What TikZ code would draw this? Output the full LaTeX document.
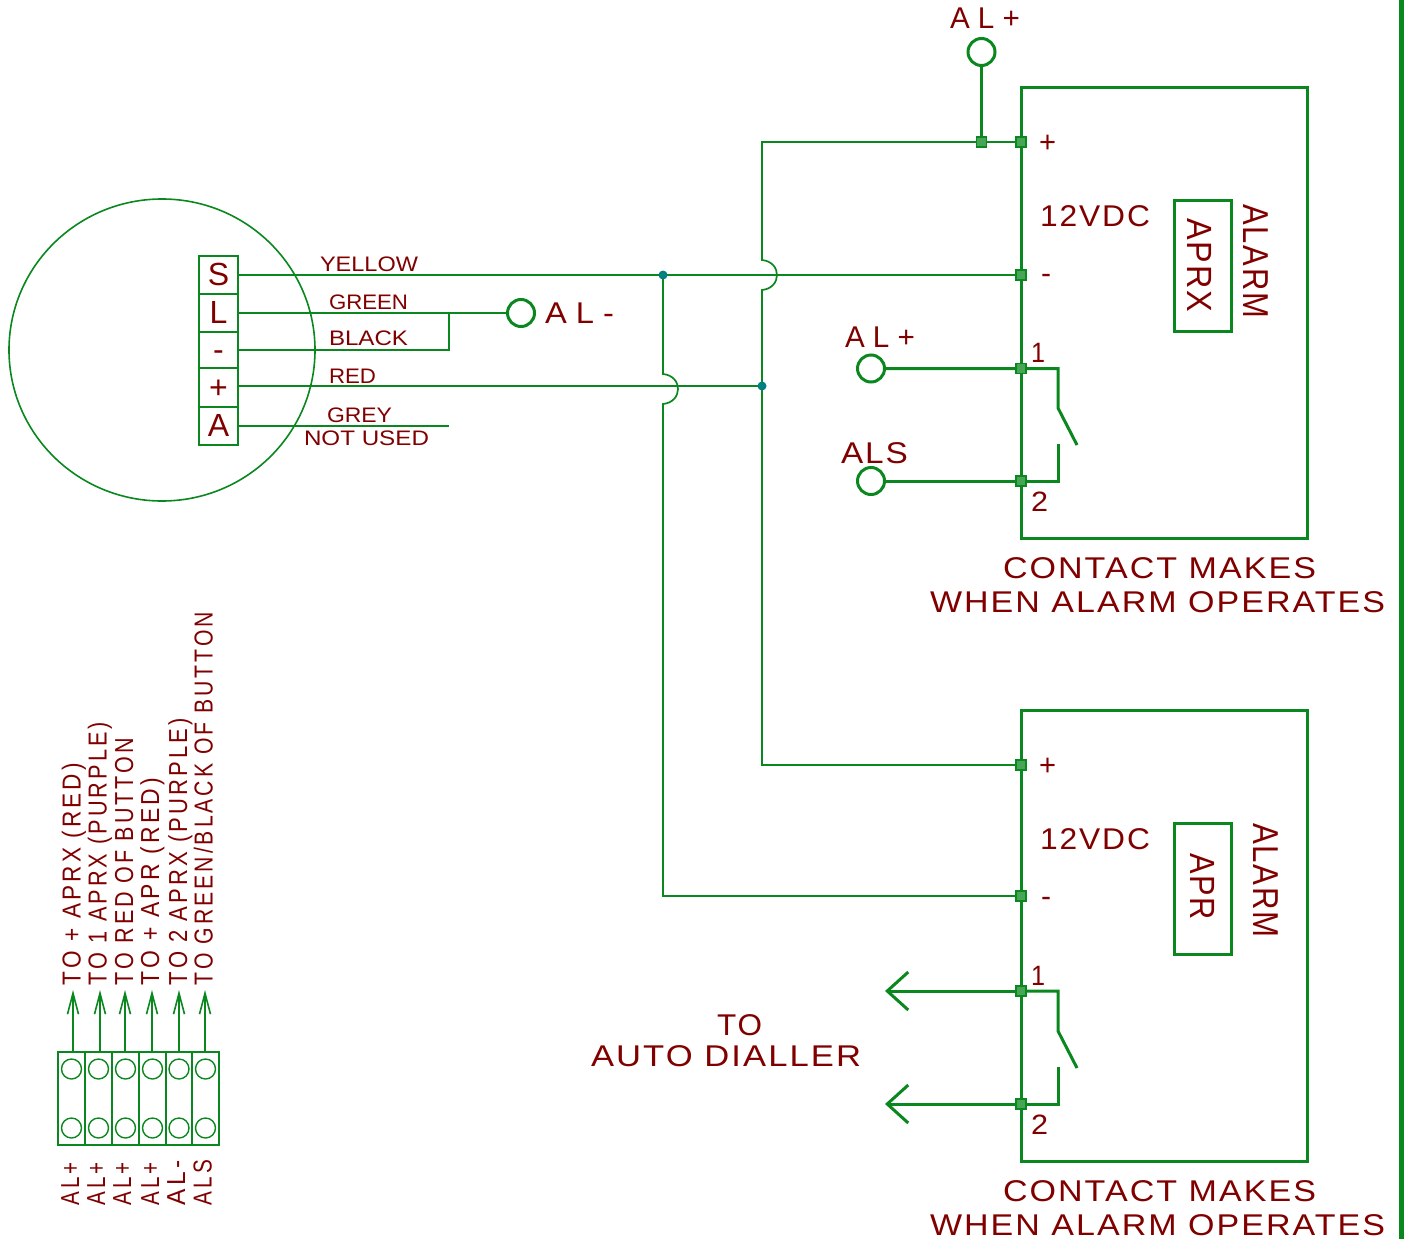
\documentclass[tikz,border=0pt]{standalone}
\usepackage{fontspec}
\setmainfont{Liberation Sans}
\usetikzlibrary{shapes.geometric,arrows.meta}
\definecolor{wire}{RGB}{10,135,30}
\definecolor{ink}{RGB}{128,0,0}
\definecolor{junc}{RGB}{0,128,128}
\newcommand\fitn[3]{\resizebox{#1pt}{\height}{\fontsize{#2pt}{#2pt}\selectfont #3}}
\newcommand\fit[3]{\resizebox{#1pt}{\height}{\fontsize{#2pt}{#2pt}\selectfont\addfontfeature{LetterSpace=6}#3}}
\newcommand\fits[3]{\resizebox{#1pt}{\height}{\fontsize{#2pt}{#2pt}\selectfont\addfontfeature{LetterSpace=14}#3}}
\pgfdeclarelayer{bg}
\pgfsetlayers{bg,main}
\tikzset{
  lbl/.style={inner sep=0pt,outer sep=0pt,text=ink,anchor=base west},
  up/.style={lbl,rotate=90},
  down/.style={lbl,rotate=-90},
  thin wire/.style={draw=wire,line width=1.7pt},
  thick wire/.style={draw=wire,line width=3pt},
  terminal/.style={draw=wire,line width=1.6pt,minimum width=39pt,inner sep=0pt,text=ink,text height=21pt,text depth=0pt,font=\fontsize{32pt}{32pt}\selectfont},
  tp/.style={circle,draw=wire,line width=3pt,minimum size=27pt,inner sep=0pt,fill=white},
  sq/.style={rectangle,draw=wire,line width=1.2pt,fill=wire!75,minimum size=10pt,inner sep=0pt},
  dotj/.style={circle,fill=junc,minimum size=9pt,inner sep=0pt},
  cell/.style={draw=wire,line width=1.7pt,minimum width=27pt,minimum height=93pt,inner sep=0pt},
  hole/.style={circle,draw=wire,line width=1.4pt,minimum size=20pt,inner sep=0pt},
  barb/.style={-{Straight Barb[length=21pt,width=11pt,line width=1.6pt]}},
  chev/.style={-{Straight Barb[length=21pt,width=38pt,line width=3pt]}},
}
\begin{document}
\begin{tikzpicture}[x=1pt,y=-1pt]
\useasboundingbox (0,0) rectangle (1404,1239);
\fill[wire] (1399,0) rectangle (1404,1239);

% head
\node[ellipse,draw=wire,line width=1.6pt,minimum width=306pt,minimum height=302pt,inner sep=0pt] (head) at (162,350) {};
\node[terminal,minimum height=38pt] (tS) at (218.5,275) {S};
\node[terminal,minimum height=38pt] (tL) at (218.5,313) {L};
\node[terminal,minimum height=36pt] (tM) at (218.5,350) {-};
\node[terminal,minimum height=39pt] (tP) at (218.5,387.5) {+};
\node[terminal,minimum height=38pt] (tA) at (218.5,426) {A};

\node[lbl] (lyel) at (320,271) {\fitn{98}{21}{YELLOW}};
\node[lbl] (lgrn) at (329,309) {\fitn{79}{21}{GREEN}};
\node[lbl] (lblk) at (329,345) {\fitn{79}{21}{BLACK}};
\node[lbl] (lred) at (329,383) {\fitn{47}{21}{RED}};
\node[lbl] (lgry) at (327,422) {\fitn{65}{21}{GREY}};
\node[lbl] (lnot) at (304,445) {\fitn{125}{21}{NOT USED}};

\node[tp] (tpAlm) at (521,313) {};
\node[lbl] (lalm) at (545,323) {\fitn{69}{30}{A L -}};
\coordinate (jL) at (449,313);
\coordinate (jM) at (449,350);
\coordinate (endA) at (449,426);

\node[dotj] (d1) at (663,275) {};
\node[dotj] (d2) at (762,386) {};

% upper alarm
\node[rectangle,draw=wire,line width=3pt,minimum width=286pt,minimum height=451pt,inner sep=0pt] (box1) at (1164,312.5) {};
\node[rectangle,draw=wire,line width=3pt,minimum width=57pt,minimum height=131pt,inner sep=0pt] (apx) at (1202.5,265.5) {};
\node[down] (tapx) at (1187,218) {\fit{94}{35}{APRX}};
\node[down] (tal1) at (1243,204) {\fit{114}{36}{ALARM}};
\node[lbl] (v1) at (1040,226) {\fit{110}{30}{12VDC}};
\node[tp] (tpTop) at (981.5,52) {};
\node[lbl] (ltop) at (950,29) {\fitn{70}{30}{A L +}};
\node[sq] (s0) at (981.5,142) {};
\node[sq] (s1p) at (1021,142) {};
\node[sq] (s1m) at (1021,275) {};
\node[sq] (s11) at (1021,368.5) {};
\node[sq] (s12) at (1021,481) {};
\node[lbl] (p1) at (1039,152) {\fitn{17}{30}{+}};
\node[lbl] (m1) at (1041,283) {\fitn{10}{30}{-}};
\node[lbl] (n11) at (1031,362) {\fitn{14}{28}{1}};
\node[lbl] (n12) at (1031,511) {\fitn{17}{28}{2}};
\node[tp] (tpA) at (871,368.5) {};
\node[lbl] (la) at (845,347) {\fitn{70}{30}{A L +}};
\node[tp] (tpS) at (871,481) {};
\node[lbl] (ls) at (841,463) {\fit{67}{30}{ALS}};
\coordinate (c11) at (1058,368.5);
\coordinate (c12) at (1058,408);
\coordinate (c13) at (1077,445);
\coordinate (c14) at (1058,444);
\coordinate (c15) at (1058,481);
\node[lbl] (c1a) at (1003,578) {\fit{313}{30}{CONTACT MAKES}};
\node[lbl] (c1b) at (930,612) {\fit{455}{30}{WHEN ALARM OPERATES}};

% lower alarm
\node[rectangle,draw=wire,line width=3pt,minimum width=286pt,minimum height=451pt,inner sep=0pt] (box2) at (1164,935.5) {};
\node[rectangle,draw=wire,line width=3pt,minimum width=57pt,minimum height=131pt,inner sep=0pt] (apr) at (1202.5,888.5) {};
\node[down] (tapr) at (1190,853) {\fit{67}{35}{APR}};
\node[down] (tal2) at (1253,823) {\fit{115}{36}{ALARM}};
\node[lbl] (v2) at (1040,849) {\fit{110}{30}{12VDC}};
\node[sq] (s2p) at (1021,765) {};
\node[sq] (s2m) at (1021,896) {};
\node[sq] (s21) at (1021,991) {};
\node[sq] (s22) at (1021,1104) {};
\node[lbl] (p2) at (1039,775) {\fitn{17}{30}{+}};
\node[lbl] (m2) at (1041,906) {\fitn{10}{30}{-}};
\node[lbl] (n21) at (1031,985) {\fitn{14}{28}{1}};
\node[lbl] (n22) at (1031,1134) {\fitn{17}{28}{2}};
\coordinate (a1) at (885,991);
\coordinate (a2) at (885,1104);
\coordinate (c21) at (1058,991);
\coordinate (c22) at (1058,1031);
\coordinate (c23) at (1077,1068);
\coordinate (c24) at (1058,1067);
\coordinate (c25) at (1058,1104);
\node[lbl] (to) at (717,1035) {\fit{45}{30}{TO}};
\node[lbl] (auto) at (591,1066) {\fit{270}{30}{AUTO DIALLER}};
\node[lbl] (c2a) at (1003,1201) {\fit{313}{30}{CONTACT MAKES}};
\node[lbl] (c2b) at (930,1235) {\fit{455}{30}{WHEN ALARM OPERATES}};

% terminal strip
\node[cell] (k1) at (71.5,1098.5) {};
\node[cell] (k2) at (98.5,1098.5) {};
\node[cell] (k3) at (125.5,1098.5) {};
\node[cell] (k4) at (152.5,1098.5) {};
\node[cell] (k5) at (179,1098.5) {};
\node[cell] (k6) at (205.5,1098.5) {};
\foreach \n/\x in {1/71.5,2/98.5,3/125.5,4/152.5,5/179,6/205.5}{
  \node[hole] (ha\n) at (\x,1069) {};
  \node[hole] (hb\n) at (\x,1128) {};
}
\coordinate (u1) at (73,990);
\coordinate (u2) at (100,990);
\coordinate (u3) at (125,990);
\coordinate (u4) at (152,990);
\coordinate (u5) at (179,990);
\coordinate (u6) at (205,990);
\draw[thin wire,barb] (k1.north -| u1) -- (u1);
\draw[thin wire,barb] (k2.north -| u2) -- (u2);
\draw[thin wire,barb] (k3.north -| u3) -- (u3);
\draw[thin wire,barb] (k4.north -| u4) -- (u4);
\draw[thin wire,barb] (k5.north -| u5) -- (u5);
\draw[thin wire,barb] (k6.north -| u6) -- (u6);

\node[up] (r1) at (80.5,985) {\fits{222}{26}{TO + APRX (RED)}};
\node[up] (r2) at (106.5,985) {\fits{263}{26}{TO 1 APRX (PURPLE)}};
\node[up] (r3) at (133,985) {\fits{247}{26}{TO RED OF BUTTON}};
\node[up] (r4) at (159,985) {\fits{207}{26}{TO + APR (RED)}};
\node[up] (r5) at (187,985) {\fits{267}{26}{TO 2 APRX (PURPLE)}};
\node[up] (r6) at (212.5,985) {\fits{373}{26}{TO GREEN/BLACK OF BUTTON}};
\node[up] (b1) at (79,1205) {\fits{43}{26}{AL+}};
\node[up] (b2) at (105,1205) {\fits{43}{26}{AL+}};
\node[up] (b3) at (131,1205) {\fits{43}{26}{AL+}};
\node[up] (b4) at (159,1205) {\fits{43}{26}{AL+}};
\node[up] (b5) at (185,1205) {\fits{45}{26}{AL-}};
\node[up] (b6) at (211.5,1205) {\fits{45}{26}{ALS}};

\begin{pgfonlayer}{bg}
% head wiring
\draw[thin wire] (tS.east) -- (s1m.center);
\draw[thin wire] (tL.east) -- (jL);
\draw[thick wire,line width=2.2pt] (jL) -- (tpAlm.west);
\draw[thin wire] (tM.east) -- (jM) -- (jL);
\draw[thin wire] (tP.east |- d2) -- (d2.center);
\draw[thin wire] (tA.east) -- (endA);
% crossing wires with hops
\draw[thin wire] (d1.center) -- (663,374) .. controls (683,376) and (683,402) .. (663,404) -- (663,896) -- (s2m.center);
\draw[thin wire] (s1p.center) -- (762,142) -- (762,260) .. controls (782,262) and (782,288) .. (762,290) -- (762,765) -- (s2p.center);
\draw[thick wire] (tpTop.south) -- (s0.center);
% upper contacts
\draw[thick wire] (tpA.east) -- (s11.center) -- (c11) -- (c12) -- (c13);
\draw[thick wire] (tpS.east) -- (s12.center) -- (c15) -- (c14);
% lower contacts
\draw[thick wire,chev] (s21.center) -- (a1);
\draw[thick wire,chev] (s22.center) -- (a2);
\draw[thick wire] (s21.center) -- (c21) -- (c22) -- (c23);
\draw[thick wire] (s22.center) -- (c25) -- (c24);
\end{pgfonlayer}
\end{tikzpicture}
\end{document}
